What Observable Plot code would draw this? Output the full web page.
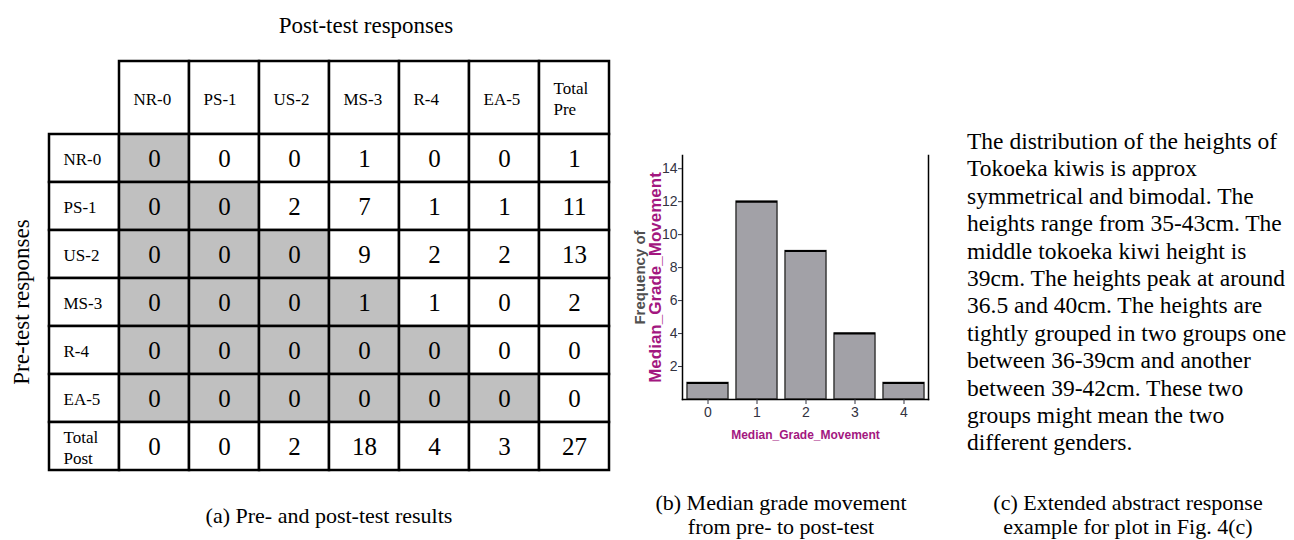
<!DOCTYPE html>
<html><head><meta charset="utf-8">
<script src="https://cdn.jsdelivr.net/npm/d3@7"></script>
<script src="https://cdn.jsdelivr.net/npm/@observablehq/plot@0.6"></script>
<style>
body{margin:0;background:#fff;}
#root{position:relative;width:1294px;height:540px;overflow:hidden;font-family:"Liberation Serif","Times New Roman",serif;color:#000;}
.abs{position:absolute;font-family:"Liberation Serif","Times New Roman",serif;}
.ctr{transform:translate(-50%,-50%);white-space:nowrap;}
.plotbox{position:absolute;}
</style></head><body><div id="root"></div>
<script>
// ---------- data ----------
const postCats = ["NR-0", "PS-1", "US-2", "MS-3", "R-4", "EA-5"];
const preCats = ["NR-0", "PS-1", "US-2", "MS-3", "R-4", "EA-5"];
const counts = [
  [0, 0, 0, 1, 0, 0],
  [0, 0, 2, 7, 1, 1],
  [0, 0, 0, 9, 2, 2],
  [0, 0, 0, 1, 1, 0],
  [0, 0, 0, 0, 0, 0],
  [0, 0, 0, 0, 0, 0]
];
const totalPre = [1, 11, 13, 2, 0, 0];
const totalPost = [0, 0, 2, 18, 4, 3];
const grandTotal = 27;

const grades = [0, 1, 2, 3, 4];
const freq = [1, 12, 9, 4, 1];
const yTicks = [2, 4, 6, 8, 10, 12, 14];

const textLines = [
  "The distribution of the heights of",
  "Tokoeka kiwis is approx",
  "symmetrical and bimodal. The",
  "heights range from 35-43cm. The",
  "middle tokoeka kiwi height is",
  "39cm. The heights peak at around",
  "36.5 and 40cm. The heights are",
  "tightly grouped in two groups one",
  "between 36-39cm and another",
  "between 39-42cm. These two",
  "groups might mean the two",
  "different genders."
];

// ---------- helpers ----------
const root = document.getElementById("root");
function addText(txt, x, y, size, extra) {
  const d = document.createElement("div");
  d.className = "abs ctr";
  d.style.left = x + "px";
  d.style.top = y + "px";
  d.style.fontSize = size + "px";
  d.style.lineHeight = "1.1";
  if (extra) Object.assign(d.style, extra);
  d.textContent = txt;
  root.appendChild(d);
  return d;
}
function place(node, left, top) {
  const w = document.createElement("div");
  w.className = "plotbox";
  w.style.left = left + "px";
  w.style.top = top + "px";
  w.appendChild(node);
  root.appendChild(w);
}

// ---------- (a) table ----------
const colKeys = ["", ...postCats, "Total Pre"];
const rowKeys = [...preCats, "Total Post"];
const cells = [];
rowKeys.forEach((r, i) => {
  cells.push({row: r, col: "", kind: "label", label: r === "Total Post" ? "Total\nPost" : r});
  const vals = i < preCats.length ? [...counts[i], totalPre[i]] : [...totalPost, grandTotal];
  vals.forEach((v, j) => cells.push({
    row: r, col: colKeys[j + 1],
    kind: (i < 6 && j < 6 && j <= i) ? "diag" : "plain",
    value: v
  }));
});
const serif = "'Liberation Serif','Times New Roman',serif";
const xTable = {type: "band", domain: colKeys, padding: 0, axis: null};

const header = Plot.plot({
  width: 640, height: 134, marginLeft: 48, marginRight: 30, marginTop: 61, marginBottom: 0,
  style: {background: "transparent", fontFamily: serif, overflow: "visible"},
  x: xTable,
  y: {type: "band", domain: ["h"], padding: 0, axis: null},
  marks: [
    Plot.cell(colKeys.slice(1), {x: d => d, y: () => "h", fill: "#fff", stroke: "#000", strokeWidth: 2.5, inset: 0}),
    Plot.text(colKeys.slice(1), {x: d => d, y: () => "h", text: d => d === "Total Pre" ? "Total\nPre" : d,
      textAnchor: "start", dx: -21, fontSize: 17, lineHeight: 1.2, fill: "#000"})
  ]
});
place(header, 0, 0);

const body = Plot.plot({
  width: 640, height: 340, marginLeft: 48, marginRight: 30, marginTop: 1, marginBottom: 1,
  style: {background: "transparent", fontFamily: serif, overflow: "visible"},
  x: xTable,
  y: {type: "band", domain: rowKeys, padding: 0, axis: null},
  color: {type: "identity"},
  marks: [
    Plot.cell(cells, {x: "col", y: "row", fill: d => d.kind === "diag" ? "#c0c0c0" : "#ffffff", stroke: "#000", strokeWidth: 2.5, inset: 0}),
    Plot.text(cells.filter(d => d.kind !== "label"), {x: "col", y: "row", text: d => String(d.value), fontSize: 25, fill: "#000"}),
    Plot.text(cells.filter(d => d.kind === "label"), {x: "col", y: "row", text: "label", textAnchor: "start", dx: -21, fontSize: 17, lineHeight: 1.25, fill: "#000"})
  ]
});
place(body, 0, 132);

addText("Post-test responses", 366, 26, 23);
addText("Pre-test responses", 22, 302, 23, {transform: "translate(-50%,-50%) rotate(-90deg)"});
addText("(a) Pre- and post-test results", 329, 516, 22);

// ---------- (b) histogram ----------
const hist = grades.map((g, i) => ({grade: g, freq: freq[i]}));
const sans = "'Liberation Sans',Arial,sans-serif";
const magenta = "#a3177f";
const histo = Plot.plot({
  width: 340, height: 320, marginLeft: 82, marginRight: 12, marginTop: 15, marginBottom: 61,
  style: {background: "transparent", fontFamily: sans, fontSize: "14px", color: "#33333f", overflow: "visible"},
  x: {type: "band", domain: grades, paddingInner: 0.17, paddingOuter: 0.085, label: null},
  y: {domain: [0, 14.8], label: null},
  marks: [
    Plot.barY(hist, {x: "grade", y: "freq", fill: "#a2a1a7", stroke: "#3a3a3a", strokeWidth: 1.5, inset: 0}),
    Plot.tickY(hist, {x: "grade", y: "freq", stroke: "#000", strokeWidth: 2}),
    Plot.frame({anchor: "left", stroke: "#000", strokeWidth: 1.5}),
    Plot.frame({anchor: "right", stroke: "#000", strokeWidth: 1.5}),
    Plot.frame({anchor: "bottom", stroke: "#000", strokeWidth: 1.5}),
    Plot.axisY(yTicks, {tickSize: 4, tickPadding: 1, fontSize: 14, label: null}),
    Plot.axisX({tickSize: 5, tickPadding: 3, fontSize: 14, label: null}),
    Plot.text(["Frequency of"], {text: d => d, frameAnchor: "left", textAnchor: "middle", rotate: -90, dx: -42, fill: "#505050", fontWeight: "bold", fontSize: 15}),
    Plot.text(["Median_Grade_Movement"], {text: d => d, frameAnchor: "left", textAnchor: "middle", rotate: -90, dx: -27, fill: magenta, fontWeight: "bold", fontSize: 17}),
    Plot.text(["Median_Grade_Movement"], {text: d => d, frameAnchor: "bottom", textAnchor: "middle", dy: 39, fill: magenta, fontWeight: "bold", fontSize: 12})
  ]
});
place(histo, 600, 140);
addText("(b) Median grade movement", 781, 503, 22);
addText("from pre- to post-test", 781, 527, 22);

// ---------- (c) text ----------
const block = document.createElement("div");
block.className = "abs";
block.style.left = "967px";
block.style.top = "128px";
block.style.fontSize = "23.5px";
block.style.lineHeight = "27.4px";
block.style.whiteSpace = "nowrap";
textLines.forEach(t => { const l = document.createElement("div"); l.textContent = t; block.appendChild(l); });
root.appendChild(block);
addText("(c) Extended abstract response", 1128, 503, 22);
addText("example for plot in Fig. 4(c)", 1128, 527, 22);
</script>
</body></html>
